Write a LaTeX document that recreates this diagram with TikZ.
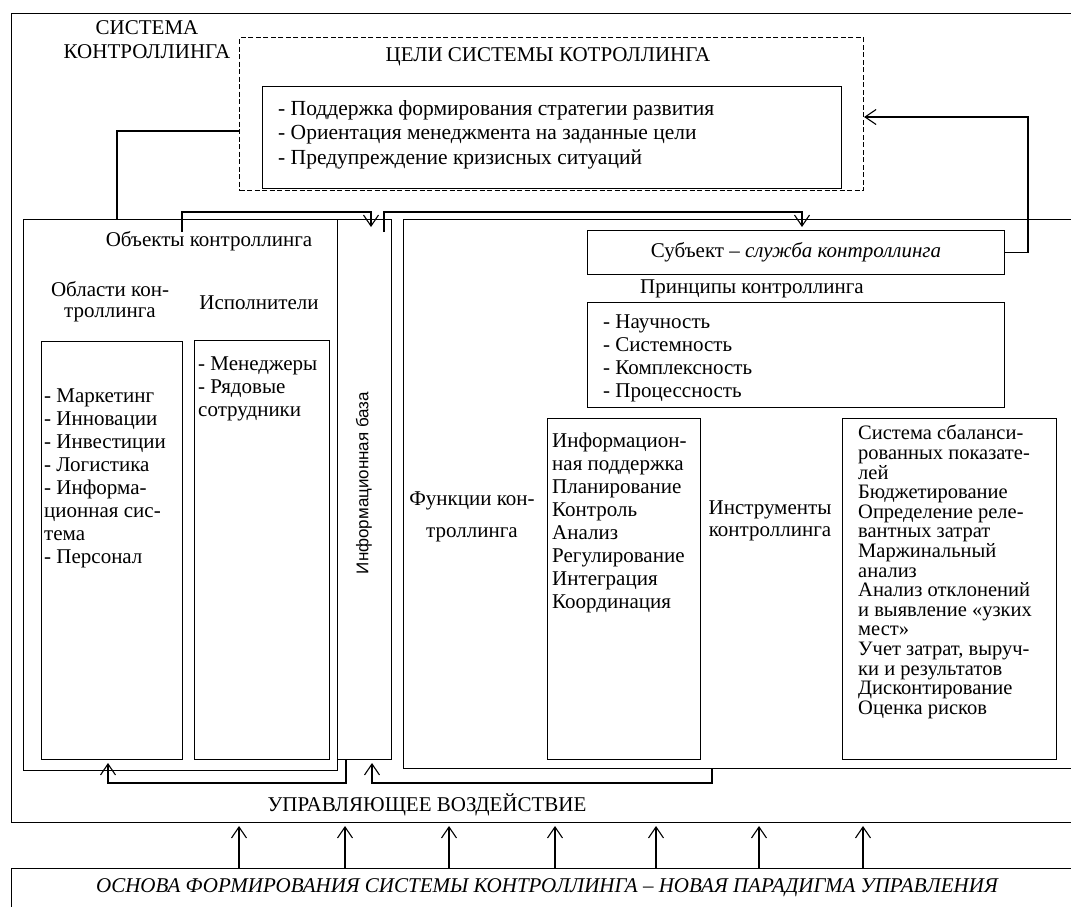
\documentclass[tikz,border=0pt]{standalone}
\usepackage{fontspec}
\setmainfont{Liberation Serif}
\newfontfamily\arialfont{Liberation Sans}
\usetikzlibrary{arrows.meta,calc}
\begin{document}
\begin{tikzpicture}[x=1pt,y=-1pt,
  box/.style={draw,line width=1.1pt,rectangle,anchor=north west,inner sep=0pt},
  dbox/.style={box,dash pattern=on 5pt off 2.5pt},
  lbl/.style={inner sep=0pt,font=\fontsize{21}{24}\selectfont,align=center},
  lst/.style={inner sep=0pt,font=\fontsize{21}{23}\selectfont,align=left,anchor=north west},
  conn/.style={line width=1.1pt},
  arr/.style={line width=1.1pt,-{Straight Barb[length=11pt,width=15pt]}},
]
\clip (0,0) rectangle (1071,906);
\fill[white] (0,0) rectangle (1071,906);
% boxes
\node[box,minimum width=1069pt,minimum height=809pt] (sys) at (11,13) {};
\node[dbox,minimum width=624pt,minimum height=153pt] (goals) at (239,37) {};
\node[box,minimum width=579pt,minimum height=102pt] (goallist) at (262,86) {};
\node[box,minimum width=314pt,minimum height=551pt] (obj) at (23,219) {};
\node[box,minimum width=54pt,minimum height=540pt] (info) at (337,219) {};
\node[box,minimum width=677pt,minimum height=549pt] (right) at (403,219) {};
\node[box,minimum width=141pt,minimum height=418pt] (areas) at (41,341) {};
\node[box,minimum width=135pt,minimum height=419pt] (exec) at (194,340) {};
\node[box,minimum width=417pt,minimum height=44pt] (subj) at (587,230) {};
\node[box,minimum width=417pt,minimum height=105pt] (princ) at (587,302) {};
\node[box,minimum width=153pt,minimum height=341pt] (funcs) at (547,418) {};
\node[box,minimum width=214pt,minimum height=341pt] (tools) at (842,418) {};
\node[box,minimum width=1069pt,minimum height=60pt] (base) at (11,868) {};
% texts
\node[lbl] (systitle) at (147,40) {СИСТЕМА\\КОНТРОЛЛИНГА};
\node[lbl] (goalstitle) at (548,57) {ЦЕЛИ СИСТЕМЫ КОТРОЛЛИНГА};
\node[lst,font=\fontsize{21.5}{24.5}\selectfont] (goaltxt) at (278,100) {- Поддержка формирования стратегии развития\\- Ориентация менеджмента на заданные цели\\- Предупреждение кризисных ситуаций};
\node[lbl] (objtitle) at (209,241) {Объекты контроллинга};
\node[lbl,font=\fontsize{21}{21}\selectfont] (areatitle) at (110,302) {Области кон-\\троллинга};
\node[lbl] (exectitle) at (259,303) {Исполнители};
\node[lst] (areatxt) at (44,389) {- Маркетинг\\- Инновации\\- Инвестиции\\- Логистика\\- Информа-\\ционная сис-\\тема\\- Персонал};
\node[lst] (exectxt) at (198,357) {- Менеджеры\\- Рядовые\\сотрудники};
\node[rotate=90,inner sep=0pt,font=\arialfont\fontsize{17}{20}\selectfont] (infotxt) at (364,483) {Информационная база};
\node[lbl] (subjtxt) at (subj.center) {Субъект – \textit{служба контроллинга}};
\node[lbl] (princtitle) at (752,289) {Принципы контроллинга};
\node[lst] (princtxt) at (603,315) {- Научность\\- Системность\\- Комплексность\\- Процессность};
\node[lbl,font=\fontsize{21}{32}\selectfont] (functitle) at (472,517) {Функции кон-\\троллинга};
\node[lst] (functxt) at (552,433) {Информацион-\\ная поддержка\\Планирование\\Контроль\\Анализ\\Регулирование\\Интеграция\\Координация};
\node[lbl,font=\fontsize{21}{22}\selectfont] (tooltitle) at (770,521) {Инструменты\\контроллинга};
\node[lst,font=\fontsize{20.5}{19.6}\selectfont] (tooltxt) at (858,425) {Система сбаланси-\\рованных показате-\\лей\\Бюджетирование\\Определение реле-\\вантных затрат\\Маржинальный\\анализ\\Анализ отклонений\\и выявление «узких\\мест»\\Учет затрат, выруч-\\ки и результатов\\Дисконтирование\\Оценка рисков};
\node[lbl] (ctrl) at (427,805) {УПРАВЛЯЮЩЕЕ ВОЗДЕЙСТВИЕ};
\node[lbl] (basetxt) at (547,888) {\itshape ОСНОВА ФОРМИРОВАНИЯ СИСТЕМЫ КОНТРОЛЛИНГА – НОВАЯ ПАРАДИГМА УПРАВЛЕНИЯ};
% connectors
\coordinate (k1) at (117,131);
\draw[conn] (goals.west |- k1) -- (k1) -- (k1 |- obj.north);
\coordinate (a0) at (182,232); \coordinate (a1) at (371,212); \coordinate (a2) at (371,227);
\draw[arr] (a0) |- (a1) -- (a2);
\coordinate (b0) at (384,232); \coordinate (b1) at (802,212); \coordinate (b2) at (802,227);
\draw[arr] (b0) |- (b1) -- (b2);
\coordinate (s1) at (1028,117);
\draw[arr] (subj.east) -| (s1) -- (goals.east |- s1);
\coordinate (c0) at (346,0); \coordinate (c1) at (108,783); \coordinate (c2) at (108,763);
\draw[arr] (info.south -| c0) |- (c1) -- (c2);
\coordinate (d0) at (712,0); \coordinate (d1) at (372,783); \coordinate (d2) at (372,763);
\draw[arr] (right.south -| d0) |- (d1) -- (d2);
\foreach \x in {239,345,449,555,656,759,863}{
  \coordinate (t\x) at (\x,826);
  \draw[arr] (base.north -| t\x) -- (t\x);
}
\end{tikzpicture}
\end{document}
